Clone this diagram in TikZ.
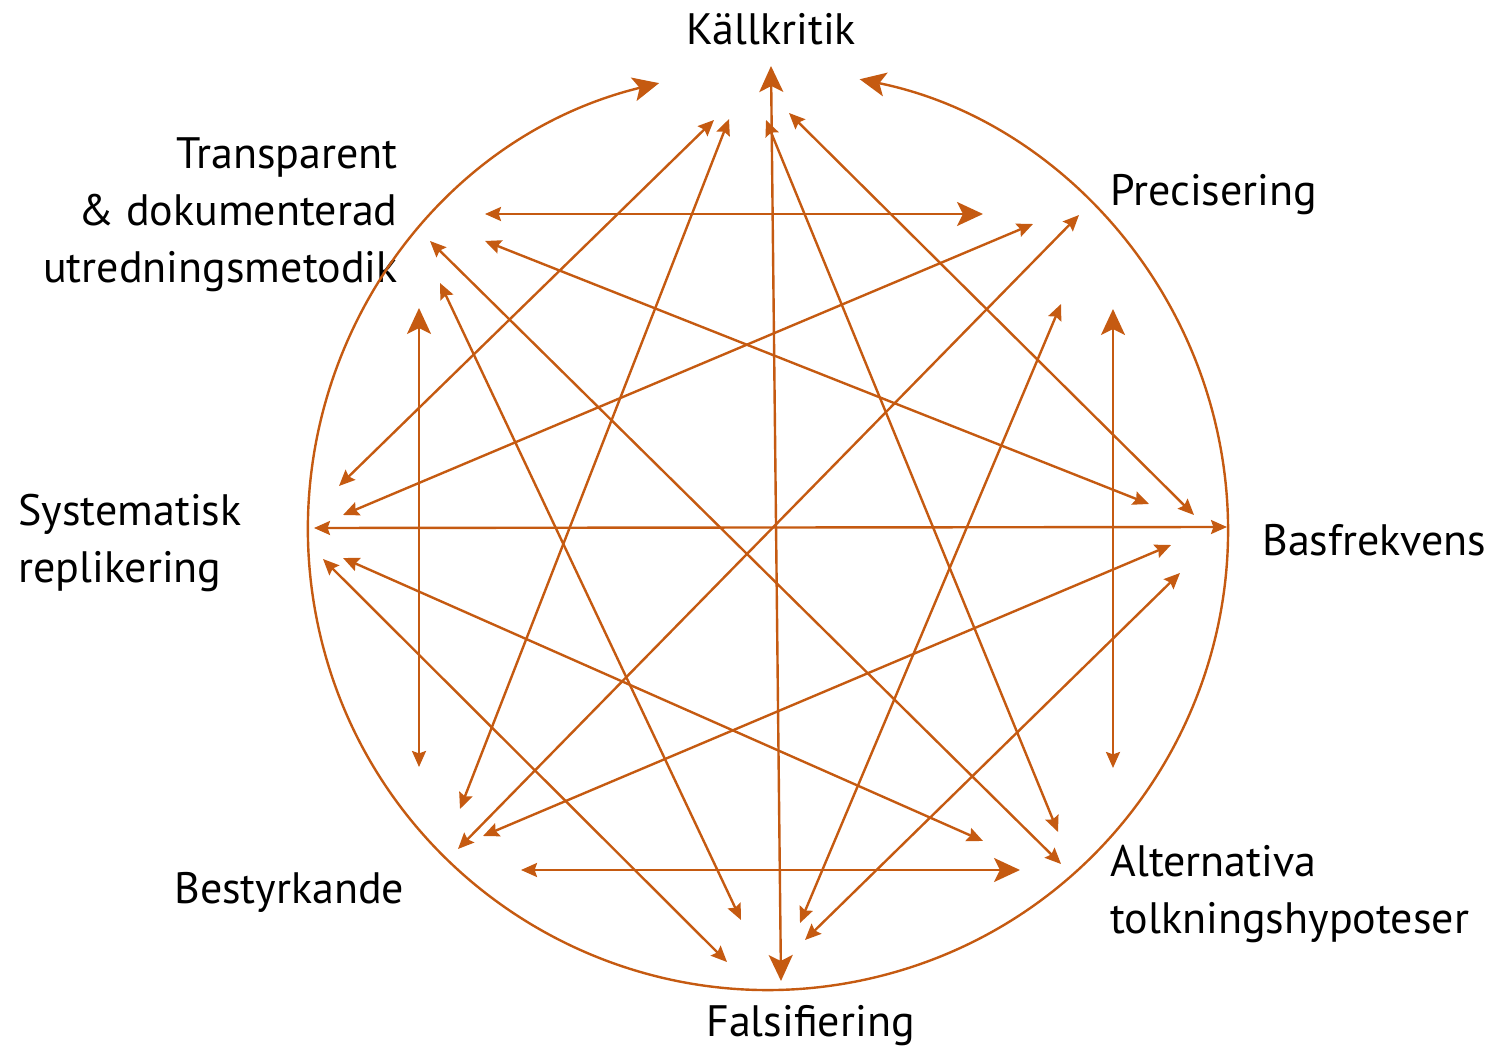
\documentclass[tikz,border=0pt]{standalone}
\usepackage{fontspec}
\setmainfont{PT Sans}
\usetikzlibrary{arrows.meta}
\definecolor{rust}{HTML}{C55A11}
\tikzset{>={Stealth[length=8pt,width=7pt,inset=1.2pt]},
  bigtip/.tip={Stealth[length=13pt,width=12pt,inset=3pt]},
  link/.style={<->,draw=rust,line width=1.2pt},
  lbl/.style={inner sep=0pt,font=\fontsize{22}{28.5}\selectfont}}

\begin{document}
\begin{tikzpicture}[x=0.5pt,y=-0.5pt]
\useasboundingbox (0,0) rectangle (1493,1047);
% the eight criteria (base = last line)
\node[lbl,anchor=base] (kall) at (771,45) {Källkritik};
\node[lbl,anchor=base west] (prec) at (1110,206) {Precisering};
\node[lbl,anchor=base west] (bas) at (1262,555) {Basfrekvens};
\node[lbl,anchor=base west,align=left] (alt) at (1110,933) {Alternativa\\tolkningshypoteser};
\node[lbl,anchor=base west] (fals) at (706,1036) {Falsifiering};
\node[lbl,anchor=base west] (best) at (174,903) {Bestyrkande};
\node[lbl,anchor=base west,align=left] (sys) at (18,582) {Systematisk\\replikering};
\node[lbl,anchor=base east,align=right] (trans) at (398,283) {Transparent\\\& dokumenterad\\utredningsmetodik};

% arrow ends, named from-to
\coordinate (t-p) at (485,214);  \coordinate (p-t) at (983,214);
\coordinate (b-a) at (521,870);  \coordinate (a-b) at (1020,870);
\coordinate (t-b) at (419,308);  \coordinate (b-t) at (419,767);
\coordinate (p-a) at (1113,309); \coordinate (a-p) at (1113,768);
\coordinate (s-ba) at (314,528); \coordinate (ba-s) at (1227,527);
\coordinate (k-f) at (771,66);   \coordinate (f-k) at (781,981);
\coordinate (s-k) at (339,486);  \coordinate (k-s) at (714,120);
\coordinate (b-k) at (460,809);  \coordinate (k-b) at (729,119);
\coordinate (k-a) at (766,120);  \coordinate (a-k) at (1058,832);
\coordinate (k-ba) at (789,113); \coordinate (ba-k) at (1194,515);
\coordinate (s-p) at (343,515);  \coordinate (p-s) at (1033,224);
\coordinate (b-p) at (458,849);  \coordinate (p-b) at (1079,215);
\coordinate (f-p) at (800,923);  \coordinate (p-f) at (1061,304);
\coordinate (t-a) at (430,241);  \coordinate (a-t) at (1061,864);
\coordinate (t-ba) at (485,241); \coordinate (ba-t) at (1149,504);
\coordinate (t-f) at (440,283);  \coordinate (f-t) at (741,920);
\coordinate (b-ba) at (483,836); \coordinate (ba-b) at (1171,545);
\coordinate (f-ba) at (805,940); \coordinate (ba-f) at (1180,573);
\coordinate (s-a) at (343,558);  \coordinate (a-s) at (983,841);
\coordinate (s-f) at (323,559);  \coordinate (f-s) at (727,962);

% ring round the criteria
\coordinate (ctr) at (768,530);
\draw[link,bigtip-bigtip] ([shift={(-103.7:460)}]ctr) arc[start angle=-103.7,end angle=-438.5,radius=460];

% links with big heads
\draw[link,bigtip-bigtip] (k-f) -- (f-k);
\draw[link,bigtip->] (t-b) -- (b-t);
\draw[link,bigtip->] (p-a) -- (a-p);
\draw[link,<-bigtip] (t-p) -- (p-t);
\draw[link,<-bigtip] (b-a) -- (a-b);

% the other links
\foreach \u/\v in {s-ba/ba-s, s-k/k-s, b-k/k-b, k-a/a-k, k-ba/ba-k, s-p/p-s,
    b-p/p-b, f-p/p-f, t-a/a-t, t-ba/ba-t, t-f/f-t, b-ba/ba-b, f-ba/ba-f,
    s-a/a-s, s-f/f-s}
  \draw[link] (\u) -- (\v);
\end{tikzpicture}
\end{document}
